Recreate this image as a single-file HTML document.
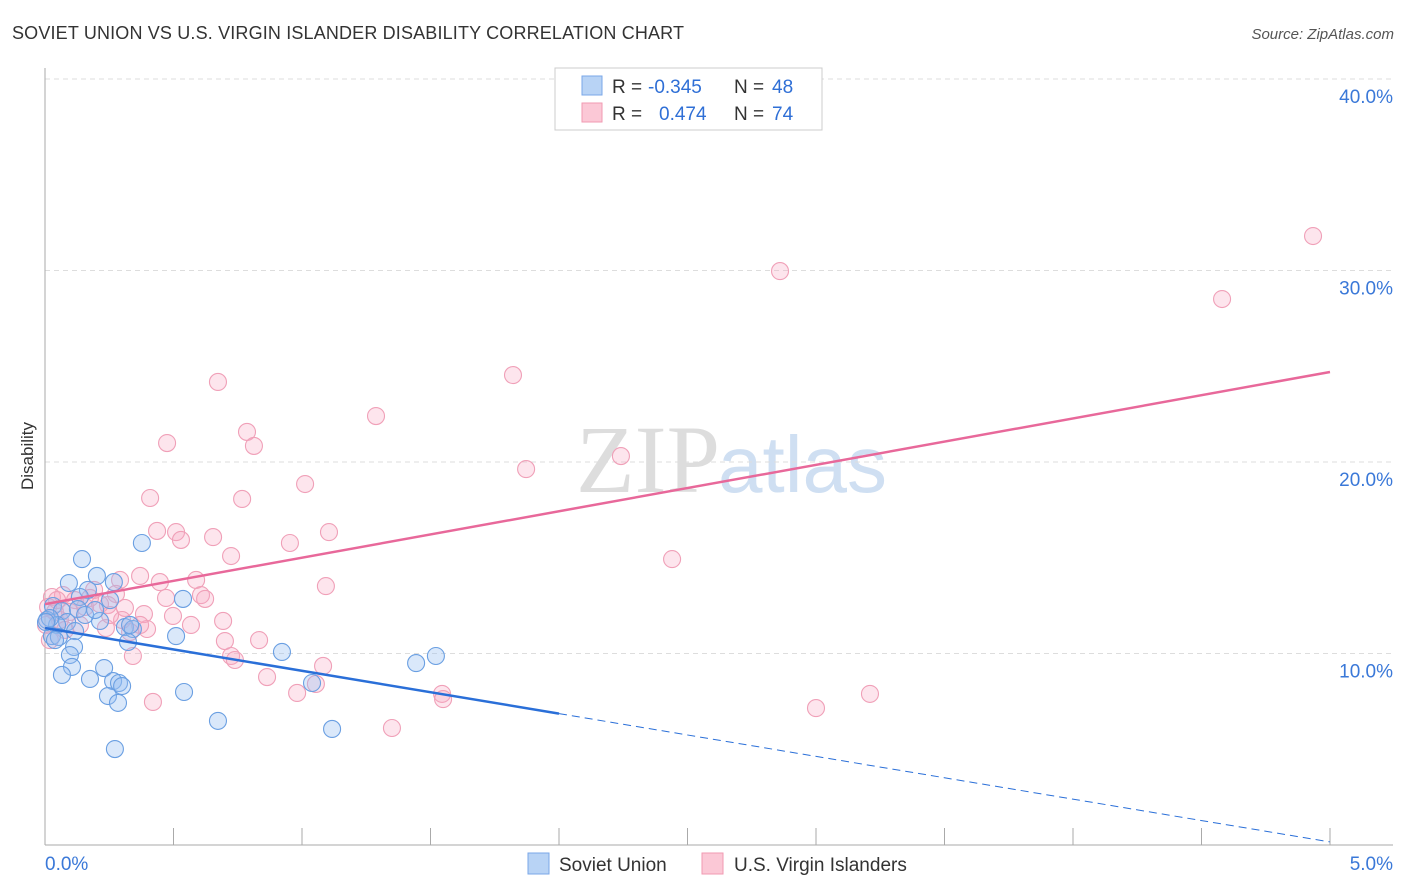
<!DOCTYPE html><html><head><meta charset="utf-8"><style>
body{margin:0;background:#fff;font-family:"Liberation Sans",sans-serif}
</style></head><body>
<svg id="c" width="1406" height="892" style="display:block">
<text x="12" y="39" font-size="18" fill="#333" textLength="672">SOVIET UNION VS U.S. VIRGIN ISLANDER DISABILITY CORRELATION CHART</text>
<text x="1394" y="39" font-size="15" fill="#555" text-anchor="end" font-style="italic">Source: ZipAtlas.com</text>
<text x="720" y="492" font-size="96" fill="#ddd" text-anchor="end" font-family="Liberation Serif">ZIP</text>
<text x="718" y="492" font-size="80" fill="#cfdff2">atlas</text>
<text transform="translate(33,456) rotate(-90)" font-size="17" fill="#333" text-anchor="middle">Disability</text>
<g id="grid"></g><g id="pts"></g><g id="lines"></g>
<g>
<rect x="555" y="68" width="267" height="62" fill="#fff" stroke="#ccc"/>
<rect x="582" y="76" width="20" height="19" fill="#b8d3f5" stroke="#7aa7e8"/>
<rect x="582" y="103" width="20" height="19" fill="#fbc8d6" stroke="#f09ab2"/>
<text x="612" y="93" font-size="19" fill="#333">R =</text>
<text x="648" y="93" font-size="19" fill="#2f6fd6">-0.345</text>
<text x="734" y="93" font-size="19" fill="#333">N =</text>
<text x="772" y="93" font-size="19" fill="#2f6fd6">48</text>
<text x="612" y="120" font-size="19" fill="#333">R =</text>
<text x="659" y="120" font-size="19" fill="#2f6fd6">0.474</text>
<text x="734" y="120" font-size="19" fill="#333">N =</text>
<text x="772" y="120" font-size="19" fill="#2f6fd6">74</text>
</g>
<g>
<rect x="528" y="853" width="21" height="21" fill="#b8d3f5" stroke="#7aa7e8"/>
<text x="559" y="871" font-size="19" fill="#333">Soviet Union</text>
<rect x="702" y="853" width="21" height="21" fill="#fbc8d6" stroke="#f09ab2"/>
<text x="734" y="871" font-size="19" fill="#333">U.S. Virgin Islanders</text>
</g>
</svg>
<script>
const yTicks=[10,20,30,40];
const xTickLabels=["0.0%","5.0%"];
const blueX=[0.144,0.377,0.202,0.093,0.268,0.167,0.136,0.537,0.253,0.031,0.066,0.128,0.214,0.086,0.008,0.047,0.311,0.342,0.117,0.027,0.054,0.510,0.323,0.113,0.922,0.097,1.444,1.521,0.105,0.230,0.066,0.175,0.265,0.288,0.300,0.541,0.245,0.284,1.039,0.673,1.117,0.272,0.019,0.039,0.004,0.156,0.195,0.331];
const blueY=[14.93,15.77,14.05,13.68,13.73,13.32,12.95,12.85,12.79,12.48,12.22,12.32,11.70,11.64,11.75,11.49,11.38,11.28,11.17,10.91,10.86,10.91,10.60,10.34,10.08,9.92,9.50,9.87,9.30,9.24,8.88,8.67,8.56,8.46,8.30,7.99,7.78,7.42,8.46,6.48,6.06,5.01,11.85,10.70,11.64,12.01,12.27,11.49];
const pinkX=[4.934,2.860,4.580,1.821,0.673,1.288,0.786,0.475,0.813,1.872,2.241,0.409,1.012,0.767,0.436,0.510,1.105,0.529,0.654,0.953,0.724,2.440,0.370,0.447,0.588,0.292,1.093,0.191,0.276,0.607,0.471,0.623,0.070,0.027,0.117,0.245,0.156,0.311,0.214,0.385,0.498,0.693,0.568,0.300,0.397,0.012,0.039,0.097,0.058,0.004,0.833,0.700,0.342,0.724,0.739,1.082,0.864,1.054,0.981,0.420,1.545,1.549,3.000,3.210,1.350,0.047,0.175,0.019,0.237,0.136,0.331,0.078,0.253,0.370];
const pinkY=[31.80,29.97,28.51,24.54,24.18,22.40,21.57,20.99,20.84,19.63,20.31,18.12,18.85,18.07,16.40,16.34,16.34,15.93,16.08,15.77,15.09,14.93,14.05,13.73,13.84,13.84,13.52,13.32,13.11,13.05,12.90,12.85,13.05,12.95,12.79,12.53,12.43,12.38,12.58,12.06,11.96,11.70,11.49,11.75,11.28,12.43,12.17,12.17,11.75,11.49,10.70,10.65,9.87,9.87,9.66,9.35,8.77,8.41,7.94,7.47,7.89,7.62,7.15,7.89,6.11,12.79,12.90,10.70,11.33,11.49,11.12,11.23,12.01,11.49];
const blueTrend=[11.33,0.16];
const pinkTrend=[12.58,24.7];
const X=v=>45+v*257, Y=v=>845-v*19.15;
const NS="http://www.w3.org/2000/svg";
function mk(p,t,a){const e=document.createElementNS(NS,t);for(const k in a)e.setAttribute(k,a[k]);p.appendChild(e);return e;}
const g=document.getElementById('grid');
yTicks.forEach(t=>{
 const l=mk(g,'line',{x1:45,x2:1393,y1:Y(t),y2:Y(t),stroke:'#ddd','stroke-dasharray':'5,4'});
 
 
 const tx=mk(g,'text',{x:1393,y:Y(t)+24,'font-size':19,fill:'#3a78d8','text-anchor':'end'});tx.textContent=t.toFixed(1)+'%';
 
 
});
mk(g,'line',{x1:45,x2:45,y1:68,y2:845,stroke:'#aaa'});
mk(g,'line',{x1:45,x2:1393,y1:845,y2:845,stroke:'#aaa'});
for(let i=0;i<=10;i++){const t=mk(g,'line',{x1:X(i*0.5),x2:X(i*0.5),y1:828,y2:845,stroke:'#aaa'});
 
 }
xTickLabels.forEach((s,i)=>{const t=mk(g,'text',{x:i?1393:45,y:870,'font-size':19,fill:'#3a78d8','text-anchor':i?'end':'start'});t.textContent=s;
 
 });
const p=document.getElementById('pts');
pinkX.forEach((x,i)=>{const c=mk(p,'circle',{cx:X(x),cy:Y(pinkY[i]),r:8.5,fill:'rgba(248,170,195,0.3)',stroke:'#f0a0b8','stroke-width':1.1});
 
 });
blueX.forEach((x,i)=>{const c=mk(p,'circle',{cx:X(x),cy:Y(blueY[i]),r:8.5,fill:'rgba(150,190,240,0.35)',stroke:'#6a9fe2','stroke-width':1.1});
 
 });
const L=document.getElementById('lines');
const by=x=>blueTrend[0]+(blueTrend[1]-blueTrend[0])*x/5;
let l1=mk(L,'line',{x1:X(0),y1:Y(by(0)),x2:X(2),y2:Y(by(2)),stroke:'#2a6fd8','stroke-width':2.5});


let l2=mk(L,'line',{x1:X(2),y1:Y(by(2)),x2:X(5),y2:Y(by(5)),stroke:'#2a6fd8','stroke-width':1,'stroke-dasharray':'8,5'});


let l3=mk(L,'line',{x1:X(0),y1:Y(pinkTrend[0]),x2:X(5),y2:Y(pinkTrend[1]),stroke:'#e8689a','stroke-width':2.5});


</script>
</body></html>
